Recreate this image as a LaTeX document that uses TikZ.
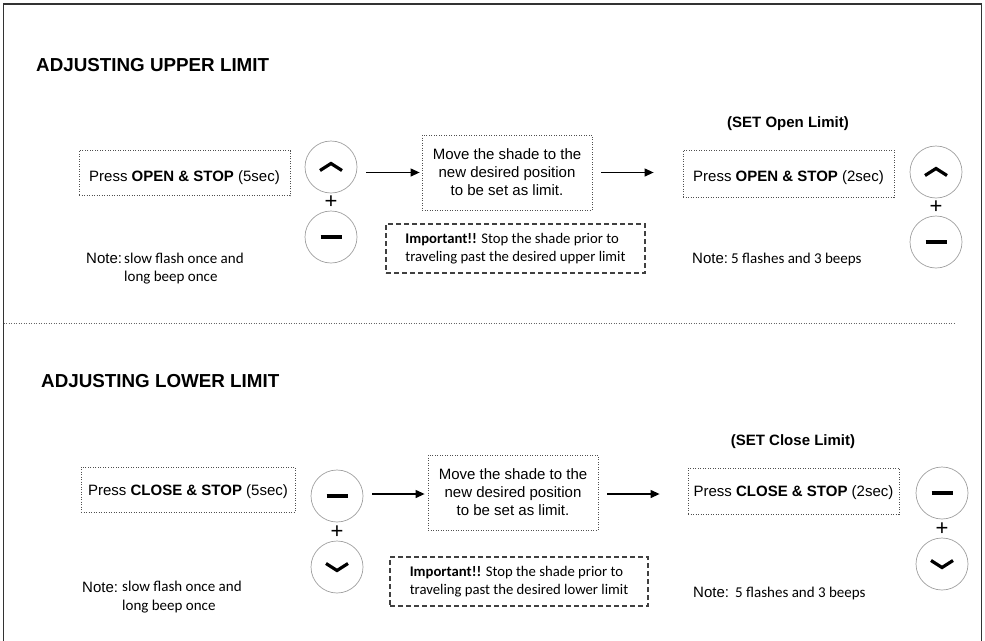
\documentclass[tikz,border=0pt]{standalone}
\usepackage{fontspec}
\setmainfont{Liberation Sans}
\newfontfamily\calib{Carlito}
\usetikzlibrary{arrows.meta,calc}
\definecolor{btngray}{HTML}{A0A0A0}
\definecolor{boxgray}{HTML}{505050}
\definecolor{warngray}{HTML}{404040}
\tikzset{
  btn/.style={circle,draw=btngray,line width=0.7pt,minimum size=52pt,inner sep=0pt},
  openbtn/.style={btn,path picture={\draw[black,line width=3.2pt]
      ([shift={(-11pt,-3.5pt)}]path picture bounding box.center) -- ++(11pt,7pt) -- ++(11pt,-7pt);}},
  closebtn/.style={btn,path picture={\draw[black,line width=3.2pt]
      ([shift={(-11pt,3.5pt)}]path picture bounding box.center) -- ++(11pt,-7pt) -- ++(11pt,7pt);}},
  stopbtn/.style={btn,path picture={\draw[black,line width=4pt]
      ([xshift=-10.5pt]path picture bounding box.center) -- ++(21pt,0pt);}},
  plus/.style={inner sep=0pt,font=\fontsize{22}{22}\selectfont},
  pressbox/.style={draw=boxgray,line width=0.8pt,dash pattern=on 1pt off 1.5pt,
      minimum width=211pt,minimum height=45pt,inner sep=0pt,text height=#1,text depth=3pt},
  pressbox/.default=19pt,
  movebox/.style={draw=boxgray,line width=0.8pt,dash pattern=on 1pt off 1.5pt,
      minimum width=170pt,minimum height=75pt,inner sep=0pt,align=center},
  warnbox/.style={draw=warngray,line width=1.1pt,dash pattern=on 5pt off 3pt,
      minimum width=258pt,minimum height=49pt,inner sep=0pt,align=left,
      font=\calib\fontsize{14.7}{17.5}\selectfont},
  notetxt/.style={anchor=base west,inner sep=0pt,align=left,font=\calib\fontsize{15}{18.5}\selectfont},
  title/.style={anchor=base west,inner sep=0pt,font=\fontsize{18.8}{22}\selectfont\bfseries},
  flow/.style={-{Triangle[length=9pt,width=8pt]},line width=1.2pt}
}

\begin{document}
\begin{tikzpicture}[x=1pt,y=-1pt,font=\fontsize{15}{18}\selectfont]
\useasboundingbox (0,0) rectangle (985,640);
\draw[line width=1.5pt,black!80] (3.5,642) -- (3.5,4) -- (981.5,4) -- (981.5,642);
\draw[black!60,line width=0.8pt,dash pattern=on 1pt off 1.5pt] (3.5,323) -- (955,323);

% upper limit
\node (title1) [title] at (36,71) {ADJUSTING UPPER LIMIT};
\node (press1) [pressbox] at (184.5,173.3) {Press \textbf{OPEN \& STOP} (5sec)};
\node (open1) [openbtn] at (331,167) {};
\node (stop1) [stopbtn] at (331,237) {};
\node (plus1) [plus] at (331,202) {+};
\node (move1) [movebox] at (507,172.5) {Move the shade to the\\new desired position\\to be set as limit.};
\node (warn1) [warnbox,minimum width=259pt] at (515.5,248.5)
  {\textbf{Important!!} Stop the shade prior to\\traveling past the desired upper limit};
\node (head1) [inner sep=0pt,anchor=base,font=\fontsize{15}{18}\selectfont\bfseries] at (788,127.5) {(SET Open Limit)};
\node (set1) [pressbox,minimum height=47pt] at (788.5,173.5) {Press \textbf{OPEN \& STOP} (2sec)};
\node (open2) [openbtn] at (936,172) {};
\node (stop2) [stopbtn] at (936,242) {};
\node (plus2) [plus] at (936,207) {+};
%
\node (note1) [anchor=base west,inner sep=0pt] at (86,263) {Note:};
\node (note1txt) [notetxt] at (124,281.5) {slow flash once and\\long beep once};
\node (note2) [anchor=base west,inner sep=0pt] at (692,263) {Note:};
\node (note2txt) [notetxt] at (731,263) {5 flashes and 3 beeps};
%
\path[flow] ($(open1.east |- move1.west)+(9,0)$) edge ($(move1.west)+(-2,0)$);
\path[flow] ($(move1.east)+(9,0)$) edge ($(set1.west |- move1.east)+(-29,0)$);

% lower limit
\node (title2) [title] at (41,387.5) {ADJUSTING LOWER LIMIT};
\node (press2) [pressbox=14pt,minimum width=214pt] at (188,489.5) {Press \textbf{CLOSE \& STOP} (5sec)};
\node (stop3) [stopbtn] at (337,496) {};
\node (close3) [closebtn] at (337,567) {};
\node (plus3) [plus] at (337,532) {+};
\node (move2) [movebox] at (513,492.5) {Move the shade to the\\new desired position\\to be set as limit.};
\node (warn2) [warnbox] at (519,581.5)
  {\textbf{Important!!} Stop the shade prior to\\traveling past the desired lower limit};
\node (head2) [inner sep=0pt,anchor=base,font=\fontsize{15}{18}\selectfont\bfseries] at (793,445) {(SET Close Limit)};
\node (set2) [pressbox=14pt,minimum height=46pt] at (793.5,491) {Press \textbf{CLOSE \& STOP} (2sec)};
\node (stop4) [stopbtn] at (942,493) {};
\node (close4) [closebtn] at (942,564) {};
\node (plus4) [plus] at (942,529) {+};
%
\node (note3) [anchor=base west,inner sep=0pt] at (82,592) {Note:};
\node (note3txt) [notetxt] at (122,610) {slow flash once and\\long beep once};
\node (note4) [anchor=base west,inner sep=0pt] at (693,597) {Note:};
\node (note4txt) [notetxt] at (735,597) {5 flashes and 3 beeps};
%
\path[flow] ($(stop3.east |- move2.west)+(9,1.5)$) edge ($(move2.west)+(-3,1.5)$);
\path[flow] ($(move2.east)+(9,1.5)$) edge ($(set2.west |- move2.east)+(-28,1.5)$);
\end{tikzpicture}
\end{document}
